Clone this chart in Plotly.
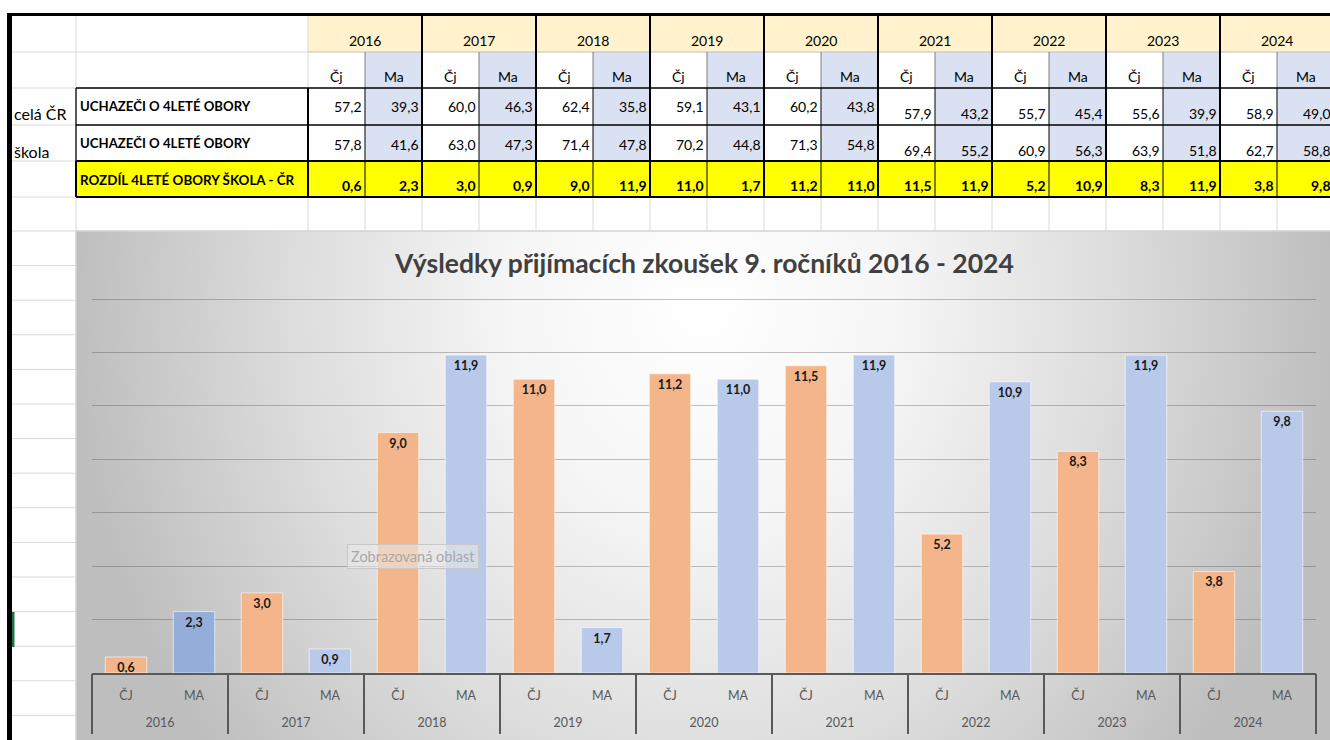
import plotly.graph_objects as go

# ---------------- data ----------------
years = ["2016", "2017", "2018", "2019", "2020", "2021", "2022", "2023", "2024"]
subjects = ["ČJ", "MA"]
table_subjects = ["Čj", "Ma"]
cr_cj = [57.2, 60.0, 62.4, 59.1, 60.2, 57.9, 55.7, 55.6, 58.9]
cr_ma = [39.3, 46.3, 35.8, 43.1, 43.8, 43.2, 45.4, 39.9, 49.0]
sk_cj = [57.8, 63.0, 71.4, 70.2, 71.3, 69.4, 60.9, 63.9, 62.7]
sk_ma = [41.6, 47.3, 47.8, 44.8, 54.8, 55.2, 56.3, 51.8, 58.8]
diff_cj = [0.6, 3.0, 9.0, 11.0, 11.2, 11.5, 5.2, 8.3, 3.8]
diff_ma = [2.3, 0.9, 11.9, 1.7, 11.0, 11.9, 10.9, 11.9, 9.8]
row_labels = ["UCHAZEČI O 4LETÉ OBORY", "UCHAZEČI O 4LETÉ OBORY", "ROZDÍL 4LETÉ OBORY ŠKOLA - ČR"]
side_labels = ["celá ČR", "škola"]
title_text = "Výsledky přijímacích zkoušek 9. ročníků 2016 - 2024"
tooltip_text = "Zobrazovaná oblast"

# ---------------- styling ----------------
W, H = 1330, 740
FONT = "Lato"
C_CJ = "#F4B58B"
C_MA = "#B8C9E9"
C_MA_SEL = "#94ADD9"
AXC = "#595959"

def X(p):
    return p / W

def Y(p):
    return 1 - p / H

def fmt(v):
    return f"{v:.1f}".replace(".", ",")

# chart data, one bar per (year, subject)
bar_x, bar_y, bar_labels, colors = [], [], [], []
for i, yr in enumerate(years):
    for j, s in enumerate(subjects):
        bar_x.append(len(bar_x))
        bar_labels.append(s)
        bar_y.append(diff_cj[i] if j == 0 else diff_ma[i])
        if j == 0:
            colors.append(C_CJ)
        else:
            colors.append(C_MA_SEL if i == 0 else C_MA)
n_bars = len(bar_x)
year_centers = [2 * i + 0.5 for i in range(len(years))]
group_edges = [2 * i - 0.5 for i in range(len(years) + 1)]

fig = go.Figure()

# chart-area background with radial gradient (decoration)
fig.add_trace(go.Scatter(
    x=[73, 1333, 1333, 73, 73], y=[-420, -420, 1020, 1020, -420],
    fill="toself", mode="lines", line=dict(width=0),
    fillgradient=dict(type="radial",
                      colorscale=[[0, "#ffffff"], [0.3, "#f6f6f6"], [0.65, "#dddddd"], [1, "#bebebe"]]),
    hoverinfo="skip", showlegend=False, xaxis="x", yaxis="y"))

# bars
fig.add_trace(go.Bar(
    x=bar_x, y=bar_y, width=0.61,
    marker=dict(color=colors, line=dict(color="rgba(255,255,255,0.6)", width=1)),
    texttemplate="%{y:.1f}", textposition="inside", insidetextanchor="end",
    textangle=0, constraintext="none",
    insidetextfont=dict(family=FONT, size=12.5, color="#1a1a1a", weight="bold"),
    hoverinfo="skip", showlegend=False, xaxis="x2", yaxis="y2"))

# invisible helpers so that the year-label axis and the divider axis are drawn
fig.add_trace(go.Scatter(x=year_centers, y=[0] * len(year_centers), mode="markers",
                         marker=dict(opacity=0), hoverinfo="skip", showlegend=False,
                         xaxis="x3", yaxis="y2"))
fig.add_trace(go.Scatter(x=group_edges, y=[0] * len(group_edges), mode="markers",
                         marker=dict(opacity=0), hoverinfo="skip", showlegend=False,
                         xaxis="x4", yaxis="y2"))

shapes = []

def rect(x0, y0, x1, y1, fill):
    shapes.append(dict(type="rect", xref="paper", yref="paper",
                       x0=X(x0), x1=X(x1), y0=Y(y1), y1=Y(y0),
                       fillcolor=fill, line=dict(width=0), layer="above"))

def hline(x0, x1, y, color, w=1):
    shapes.append(dict(type="line", xref="paper", yref="paper",
                       x0=X(x0), x1=X(x1), y0=Y(y), y1=Y(y),
                       line=dict(color=color, width=w), layer="above"))

def vline(x, y0, y1, color, w=1):
    shapes.append(dict(type="line", xref="paper", yref="paper",
                       x0=X(x), x1=X(x), y0=Y(y0), y1=Y(y1),
                       line=dict(color=color, width=w), layer="above"))

GRID = "#D9D9D9"
R = [16, 52, 88, 125, 161, 197, 231]
GX0, GW, CW = 308, 114, 57
gstart = [GX0 + GW * g for g in range(len(years))]
XEND = GX0 + GW * len(years)

# fills
rect(GX0, R[0], XEND, R[1], "#FFF2CC")
for s in gstart:
    rect(s + CW, R[1], s + GW, R[4], "#D9E1F2")
rect(76, R[4], XEND, R[5], "#FFFF00")

# light spreadsheet grid
for yy in (R[1], R[2]):
    hline(12, GX0, yy, GRID)
hline(GX0, XEND, R[1], "#BFBFBF")
for yy in (R[3], R[4], R[5]):
    hline(12, 76, yy, GRID)
hline(12, XEND, R[6], GRID)
yy = R[6] + 34.6
while yy < H:
    hline(12, 76, yy, GRID)
    yy += 34.6
vline(76, R[0], R[2], GRID)
vline(76, R[5], H, GRID)
vline(GX0, R[0], R[2], GRID)
for k in range(0, 2 * len(years) + 1):
    xb = GX0 + GW * (k // 2) + CW * (k % 2)
    vline(xb, R[5], R[6], GRID)
for s in gstart:
    vline(s + CW, R[1], R[2], "#7F7F7F")
    vline(s + CW, R[2], R[5], "#000000", 1)

# black borders
for g in range(1, len(years) + 1):
    vline(GX0 + GW * g, R[0], R[5], "#000000", 2)
vline(GX0, R[2], R[5], "#000000", 2)
hline(76, XEND, R[2], "#000000", 1.3)
hline(76, XEND, R[3], "#000000", 1.3)
hline(76, XEND, R[4], "#000000", 2)
hline(76, XEND, R[5], "#000000", 2)
vline(76, R[2], R[4], "#000000", 1.3)
vline(76, R[4], R[5], "#000000", 2)

# sheet frame
rect(7, 13, 12, H, "#000000")
rect(7, 13, W, 16, "#000000")
rect(12, 612, 14.5, 647, "#217346")

# chart area outline
shapes.append(dict(type="rect", xref="paper", yref="paper",
                   x0=X(76), x1=X(W + 2), y0=Y(H + 2), y1=Y(231),
                   fillcolor="rgba(0,0,0,0)", line=dict(color="#d0d0d0", width=1), layer="above"))

ann = []

def text(x, y, t, size=14, anchor="center", bold=False, color="#000000"):
    ann.append(dict(xref="paper", yref="paper", x=X(x), y=Y(y), text=t,
                    showarrow=False, xanchor=anchor, yanchor="middle",
                    font=dict(family=FONT, size=size, color=color,
                              weight="bold" if bold else "normal")))

for g, yr in enumerate(years):
    s = gstart[g]
    text(s + GW / 2, 41, yr)
    text(s + CW / 2, 76, table_subjects[0])
    text(s + CW + CW / 2, 76, table_subjects[1])
    off = 6 if g >= 5 else 0
    text(s + CW - 1, 107 + off, fmt(cr_cj[g]), anchor="right")
    text(s + GW - 1, 107 + off, fmt(cr_ma[g]), anchor="right")
    text(s + CW - 1, 144 + off, fmt(sk_cj[g]), anchor="right")
    text(s + GW - 1, 144 + off, fmt(sk_ma[g]), anchor="right")
    text(s + CW - 1, 185, fmt(diff_cj[g]), anchor="right", bold=True)
    text(s + GW - 1, 185, fmt(diff_ma[g]), anchor="right", bold=True)

text(78, 106, row_labels[0], size=13.2, anchor="left", bold=True)
text(78, 143, row_labels[1], size=13.2, anchor="left", bold=True)
text(78, 180, row_labels[2], size=13.4, anchor="left", bold=True)
text(12, 114, side_labels[0], size=16, anchor="left")
text(12, 151, side_labels[1], size=16, anchor="left")

# chart title
text(704, 263, title_text, size=26.5, bold=True, color="#404040")

# tooltip
ann.append(dict(xref="paper", yref="paper", x=X(413), y=Y(556), text=tooltip_text,
                showarrow=False, xanchor="center", yanchor="middle",
                bgcolor="rgba(235,235,235,0.55)", bordercolor="#c8c8c8", borderwidth=1, borderpad=3,
                font=dict(family=FONT, size=14.5, color="#a8a8a8")))

UNIT = (673 - 299) / 14.0
YTOP = 14.05
xr = [-0.5, n_bars - 0.5]
xdom = [X(92), X(1316)]

fig.update_layout(
    width=W, height=H,
    margin=dict(l=0, r=0, t=0, b=0),
    paper_bgcolor="#ffffff", plot_bgcolor="rgba(0,0,0,0)",
    separators=", ",
    font=dict(family=FONT),
    xaxis=dict(domain=[X(76), 1], range=[76, 1330], visible=False, fixedrange=True),
    yaxis=dict(domain=[0, Y(231)], range=[740, 231], visible=False, fixedrange=True),
    # subject labels + axis line
    xaxis2=dict(domain=xdom, anchor="y2", range=xr,
                tickvals=bar_x, ticktext=bar_labels,
                ticks="outside", ticklen=10, tickcolor="rgba(0,0,0,0)",
                showline=True, linecolor=AXC, linewidth=2,
                tickfont=dict(family=FONT, size=12.5, color=AXC),
                showgrid=False, zeroline=False, fixedrange=True),
    # year labels
    xaxis3=dict(overlaying="x2", anchor="y2", side="bottom", range=xr,
                tickvals=year_centers, ticktext=years,
                ticks="outside", ticklen=38, tickcolor="rgba(0,0,0,0)",
                tickfont=dict(family=FONT, size=12.5, color=AXC),
                showgrid=False, zeroline=False, showline=False, fixedrange=True),
    # group dividers
    xaxis4=dict(overlaying="x2", anchor="y2", side="bottom", range=xr,
                tickvals=group_edges, showticklabels=False,
                ticks="outside", ticklen=60, tickwidth=2, tickcolor=AXC,
                showgrid=False, zeroline=False, showline=False, fixedrange=True),
    yaxis2=dict(domain=[Y(673), Y(673 - YTOP * UNIT)], anchor="x2", range=[0, YTOP], dtick=2,
                showticklabels=False, showgrid=True, gridcolor="rgba(70,70,70,0.33)",
                gridwidth=1, zeroline=False, showline=False, fixedrange=True),
    shapes=shapes,
    annotations=ann,
)

fig.write_html("out.html", config={"displayModeBar": False},
               post_script="document.body.style.margin='0';document.body.style.overflow='hidden';")
